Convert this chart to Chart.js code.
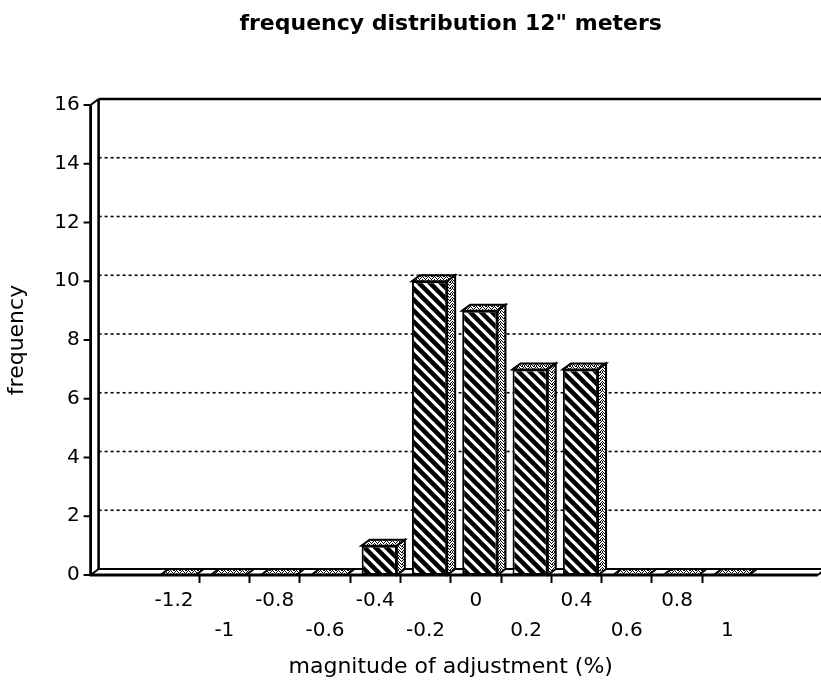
<!DOCTYPE html>
<html>
<head>
<meta charset="utf-8">
<title>frequency distribution 12" meters</title>
<script src="https://cdn.jsdelivr.net/npm/chart.js@4.4.1/dist/chart.umd.min.js"></script>
<style>
  html,body{margin:0;padding:0;background:#fff;overflow:hidden}
  #wrap{width:821px;height:680px}
</style>
</head>
<body>
<div id="wrap"><canvas id="chart" width="821" height="680"></canvas></div>
<script>
// data
const categories = ['', '-1.2', '-1', '-0.8', '-0.6', '-0.4', '-0.2', '0', '0.2', '0.4', '0.6', '0.8', '1', ''];
const frequency  = [null, 0, 0, 0, 0, 1, 10, 9, 7, 7, 0, 0, 0, null];
const yTickValues = [0, 2, 4, 6, 8, 10, 12, 14, 16];

const chartTitle = 'frequency distribution 12" meters';
const xTitle = 'magnitude of adjustment (%)';
const yTitle = 'frequency';

const FONT = 'DejaVu Sans';
const DX = 8, DY = -6;      // depth of the 3d look
const SHIFT = 4;            // bars sit a bit right of the front ticks

const canvas = document.getElementById('chart');
const ctx0 = canvas.getContext('2d');

// hatch "\\\" for the bar fronts
function hatch(){
  const s = 11, c = document.createElement('canvas'); c.width = c.height = s;
  const g = c.getContext('2d');
  g.fillStyle = '#fff'; g.fillRect(0,0,s,s);
  g.strokeStyle = '#000'; g.lineWidth = 4.6;
  g.beginPath();
  for(const k of [-1,0,1]){ g.moveTo(-s, -s + k*s); g.lineTo(2*s, 2*s + k*s); }
  g.stroke();
  return ctx0.createPattern(c,'repeat');
}
// speckle for the sides and tops
function speckle(){
  const s = 6, c = document.createElement('canvas'); c.width = c.height = s;
  const g = c.getContext('2d');
  g.fillStyle = '#fff'; g.fillRect(0,0,s,s);
  g.fillStyle = '#000';
  [[0,0],[2,0],[5,0],[1,1],[3,1],[4,2],[0,2],[2,3],[5,3],[1,4],[3,4],[4,5],[0,5],[2,5]]
    .forEach(([x,y])=>g.fillRect(x,y,1,1));
  return ctx0.createPattern(c,'repeat');
}
const hatchFill = hatch(), speckFill = speckle();

function line(ctx,x1,y1,x2,y2){ ctx.beginPath(); ctx.moveTo(x1,y1); ctx.lineTo(x2,y2); ctx.stroke(); }
function poly(ctx,pts){
  ctx.beginPath(); ctx.moveTo(pts[0][0],pts[0][1]);
  for(let i=1;i<pts.length;i++) ctx.lineTo(pts[i][0],pts[i][1]);
  ctx.closePath(); ctx.fill(); ctx.stroke();
}

const box3d = {
  id:'box3d',
  beforeDatasetsDraw(chart){
    const {ctx, chartArea:a, scales:{y}} = chart;
    const W = chart.width;
    const fx = a.left - 8;
    const y0 = y.getPixelForValue(yTickValues[0]);
    const yT = y.getPixelForValue(yTickValues[yTickValues.length-1]);
    ctx.save();
    ctx.strokeStyle = '#000';
    // dotted lines on the back wall
    ctx.lineWidth = 1.6; ctx.setLineDash([3,3]);
    yTickValues.slice(1,-1).forEach(v=>{
      const py = y.getPixelForValue(v) + DY;
      line(ctx, fx+DX, py, W, py);
    });
    ctx.setLineDash([]);
    ctx.lineWidth = 2.6;
    line(ctx, fx+DX, yT+DY, W, yT+DY);          // top of back wall
    line(ctx, fx+DX, yT+DY, fx+DX, y0+DY);      // left of back wall
    ctx.lineWidth = 2;
    line(ctx, fx+DX, y0+DY, W, y0+DY);          // back edge of floor
    line(ctx, fx, y0, fx+DX, y0+DY);
    ctx.restore();
  },
  beforeDatasetDraw(chart){ chart.ctx.save(); chart.ctx.translate(SHIFT,0); },
  afterDatasetDraw(chart){ chart.ctx.restore(); },
  afterDatasetsDraw(chart){
    const {ctx, chartArea:a, scales:{y}} = chart;
    const fx = a.left - 8, rx = a.right + 15;
    const y0 = y.getPixelForValue(yTickValues[0]);
    const yT = y.getPixelForValue(yTickValues[yTickValues.length-1]);
    ctx.save();
    ctx.strokeStyle = '#000'; ctx.lineWidth = 2; ctx.lineJoin = 'miter';
    ctx.fillStyle = speckFill;
    const meta = chart.getDatasetMeta(0);
    meta.data.forEach((el,i)=>{
      if(frequency[i] === null) return;
      const {x, y:top, base, width} = el.getProps(['x','y','base','width'], true);
      const l = x - width/2 + SHIFT, r = x + width/2 + SHIFT;
      poly(ctx, [[l,top],[l+DX,top+DY],[r+DX,top+DY],[r,top]]);
      if(base - top > 0.5) poly(ctx, [[r,top],[r+DX,top+DY],[r+DX,base+DY],[r,base]]);
    });
    // front axes
    ctx.lineWidth = 2.8;
    line(ctx, fx, yT, fx, y0+1);
    line(ctx, fx-1, y0, rx, y0);
    ctx.lineWidth = 2;
    line(ctx, fx, yT, fx+DX, yT+DY);
    line(ctx, rx, y0, rx+DX, y0+DY);
    yTickValues.forEach(v=>{
      const py = y.getPixelForValue(v);
      line(ctx, fx-7, py, fx, py);
    });
    ctx.restore();
  }
};

new Chart(canvas, {
  type:'bar',
  data:{
    labels: categories,
    datasets:[{
      label: yTitle,
      data: frequency,
      backgroundColor: hatchFill,
      borderColor:'#000',
      borderWidth:2,
      borderSkipped:false,
      categoryPercentage:1,
      barPercentage:0.7
    }]
  },
  options:{
    responsive:false,
    devicePixelRatio:1,
    animation:false,
    layout:{ padding:{ left:0, right:18.2, top:0, bottom:0 } },
    plugins:{
      legend:{ display:false },
      tooltip:{ enabled:false },
      title:{
        display:true, text:chartTitle, color:'#000', fullSize:false,
        font:{ family:FONT, size:22, weight:'bold' },
        padding:{ top:11, bottom:67.6 }
      }
    },
    scales:{
      x:{
        border:{ display:false },
        grid:{
          display:true, drawOnChartArea:false, drawTicks:true, tickLength:8, tickWidth:2,
          tickColor: c => (c.index >= 2 && c.index <= 12) ? '#000' : 'rgba(0,0,0,0)'
        },
        ticks:{
          color:'#000', autoSkip:false, maxRotation:0, minRotation:0, padding:3,
          font:{ family:FONT, size:20, lineHeight:1.5 },
          callback:(v,i)=> i % 2 === 1 ? categories[i] : ['', categories[i]]
        },
        title:{ display:true, text:xTitle, color:'#000', font:{ family:FONT, size:22 }, padding:{ top:0, bottom:0 } },
        afterFit: s => { s.height = 105; }
      },
      y:{
        min:0, max:16,
        border:{ display:false },
        grid:{ display:false, drawTicks:false },
        afterBuildTicks: s => { s.ticks = yTickValues.map(v=>({value:v})); },
        ticks:{ color:'#000', padding:19, font:{ family:FONT, size:20 } },
        title:{ display:true, text:yTitle, color:'#000', font:{ family:FONT, size:22 }, padding:{ top:4, bottom:0 } },
        afterFit: s => { s.width = 98.6; }
      }
    }
  },
  plugins:[box3d]
});
</script>
</body>
</html>
